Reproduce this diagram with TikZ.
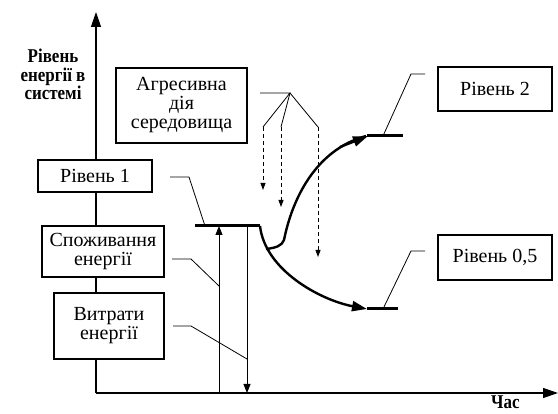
\documentclass[tikz,border=0pt]{standalone}
\usepackage{fontspec}
\setmainfont{Liberation Serif}
\newfontfamily\condbold[FakeStretch=0.87]{Liberation Serif Bold}
\usetikzlibrary{arrows.meta}
\begin{document}
\begin{tikzpicture}[x=1pt,y=-1pt,
  box/.style={draw,line width=1.1pt,fill=white,inner sep=0pt,align=center,
    font=\fontsize{20}{19}\selectfont},
  lvl/.style={line width=3pt},
  flow/.style={line width=2.4pt,-{Triangle[length=15pt,width=10pt]}},
  lead/.style={line width=0.8pt},
  ax/.style={line width=1.3pt,-{Triangle[length=15pt,width=10pt]}},
  varr/.style={line width=1pt,-{Triangle[length=9pt,width=7pt]}},
  darr/.style={line width=0.9pt,dash pattern=on 4pt off 3pt,-{Triangle[length=7pt,width=5pt]}},
  lab/.style={font=\condbold\fontsize{19.5}{18.5}\selectfont,align=center,inner sep=0pt}]
\useasboundingbox (0,0) rectangle (558,414);
% axes
\coordinate (O) at (96,393);
\coordinate (Ytop) at (96,12);
\coordinate (Xend) at (558,393);
\draw[ax] (O) -- (Ytop);
\draw[ax] (O) -- (Xend);
\node[lab,anchor=north] (ylab) at (53,49) {Рівень\\енергії в\\системі};
\node[lab,anchor=base west] (xlab) at (491,409) {Час};
% boxes
\node[box,minimum width=114pt,minimum height=32pt] (r1) at (95,176) {Рівень 1};
\node[box,minimum width=131pt,minimum height=75pt] (ag) at (181.5,105.5) {Агресивна\\дія\\середовища};
\node[box,minimum width=122pt,minimum height=51pt] (sp) at (103,251.5) {Споживання\\енергії};
\node[box,minimum width=110pt,minimum height=66pt] (vt) at (109,326) {Витрати\\енергії};
\node[box,minimum width=114pt,minimum height=44pt] (r2) at (495,89) {Рівень 2};
\node[box,minimum width=114pt,minimum height=45pt] (r05) at (495,257.5) {Рівень 0,5};
% levels
\coordinate (L1a) at (195,226);
\coordinate (L1b) at (260,226);
\coordinate (L2a) at (367,136);
\coordinate (L2b) at (403,136);
\coordinate (L5a) at (367,309);
\coordinate (L5b) at (398,309);
\draw[lvl] (L1a) -- (L1b);
\draw[lvl] (L2a) -- (L2b);
\draw[lvl] (L5a) -- (L5b);
% curves
\coordinate (split) at (266,249);
\draw[flow] (L1b) .. controls (265,270) and (320,300) .. (L5a);
\draw[line width=2.4pt] (split) .. controls (275,248) and (282,246) .. (284,240)
  .. controls (292,200) and (315,150) .. ([xshift=-1pt]L2a);
\draw[flow,line width=2.4pt] (340,147) -- ([xshift=1pt]L2a);
% vertical arrows
\coordinate (cb) at (219,393);
\coordinate (ct) at (219,226);
\coordinate (vtop) at (247,226);
\coordinate (vbot) at (247,393);
\draw[varr] (cb) -- (ct);
\draw[varr] (vtop) -- (vbot);
% leaders
\coordinate (p1a) at (170,177); \coordinate (p1b) at (189,177); \coordinate (p1c) at (205,226);
\draw[lead] (p1a) -- (p1b) -- (p1c);
\coordinate (p2a) at (172,259); \coordinate (p2b) at (191,259); \coordinate (p2c) at (219,286);
\draw[lead] (p2a) -- (p2b) -- (p2c);
\coordinate (p3a) at (173,326); \coordinate (p3b) at (191,326); \coordinate (p3c) at (247,359);
\draw[lead] (p3a) -- (p3b) -- (p3c);
\coordinate (p4a) at (425,74); \coordinate (p4b) at (411,74); \coordinate (p4c) at (383,136);
\draw[lead] (p4a) -- (p4b) -- (p4c);
\coordinate (p5a) at (425,251); \coordinate (p5b) at (411,251); \coordinate (p5c) at (383,309);
\draw[lead] (p5a) -- (p5b) -- (p5c);
% aggressive action
\coordinate (g0) at (260,93); \coordinate (g1) at (290,93);
\coordinate (d1) at (263,127); \coordinate (d2) at (281,127); \coordinate (d3) at (318,127);
\coordinate (e1) at (263,190); \coordinate (e2) at (281,207); \coordinate (e3) at (318,257);
\draw[lead] (g0) -- (g1) -- (d1);
\draw[lead] (g1) -- (d2);
\draw[lead] (g1) -- (d3);
\draw[darr] (d1) -- (e1);
\draw[darr] (d2) -- (e2);
\draw[darr] (d3) -- (e3);
\end{tikzpicture}
\end{document}
